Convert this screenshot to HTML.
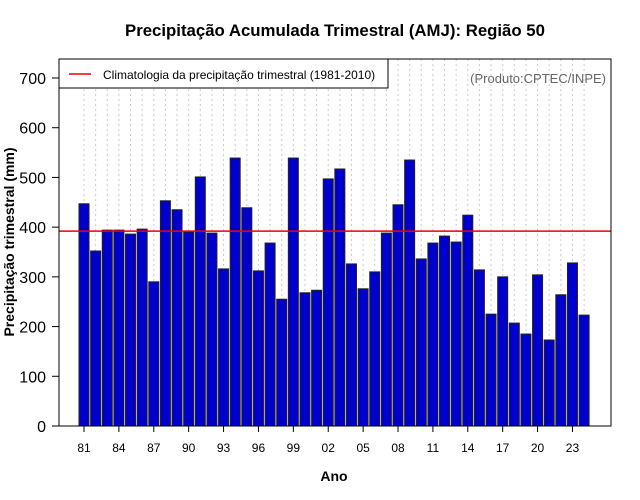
<!DOCTYPE html>
<html><head><meta charset="utf-8"><style>body{margin:0;background:#fff}svg{display:block;font-family:"Liberation Sans",sans-serif}</style></head>
<body>
<svg id="c" width="640" height="500"></svg>
<script>
const years=['81','82','83','84','85','86','87','88','89','90','91','92','93','94','95','96','97','98','99','00','01','02','03','04','05','06','07','08','09','10','11','12','13','14','15','16','17','18','19','20','21','22','23','24'];
const values=[447,352,394,394,386,396,290,453,435,390,501,388,316,539,439,312,368,255,539,268,273,497,517,326,276,310,388,445,535,336,368,382,370,424,314,225,300,207,185,304,173,264,328,223];
const climatology=392;
const yTicks=[0,100,200,300,400,500,600,700];
const xTickLabels=['81','84','87','90','93','96','99','02','05','08','11','14','17','20','23'];
const NS='http://www.w3.org/2000/svg';
const svg=document.getElementById('c');
function mk(t,a,p){const e=document.createElementNS(NS,t);for(const k in a)e.setAttribute(k,a[k]);(p||svg).appendChild(e);return e;}
const L=59,R=611,T=59,B=426;
const y=v=>426-v*(348/700);
const x=i=>84+i*11.63;
const grid=mk('g',{});


years.forEach((yr,i)=>{mk('line',{x1:x(i),x2:x(i),y1:T,y2:B,stroke:'#ccc','stroke-dasharray':'2,3','stroke-width':1},grid);});
values.forEach((v,i)=>{
 const r=mk('rect',{x:x(i)-5,y:y(v),width:10,height:B-y(v),fill:'#0000cd',stroke:'#222','stroke-width':1});
 
 
});
const cl=mk('line',{x1:L,x2:R,y1:y(climatology),y2:y(climatology),stroke:'#e00','stroke-width':1.5});


const fr=mk('rect',{x:L,y:T,width:R-L,height:B-T,fill:'none',stroke:'#000'});


yTicks.forEach(v=>{
 mk('line',{x1:L-7,x2:L,y1:y(v),y2:y(v),stroke:'#000'});
 const t=mk('text',{x:L-13,y:y(v)+6,'text-anchor':'end','font-size':16});
 t.textContent=v;
 
 
});
xTickLabels.forEach(lbl=>{
 const i=years.indexOf(lbl);
 mk('line',{x1:x(i),x2:x(i),y1:B,y2:B+6,stroke:'#000'});
 const t=mk('text',{x:x(i),y:B+26,'text-anchor':'middle','font-size':12});
 t.textContent=lbl;
 
 
});
</script>
<svg style="position:absolute;left:0;top:0" width="640" height="500">
<text x="335" y="36" text-anchor="middle" font-size="16.8" font-weight="bold">Precipitação Acumulada Trimestral (AMJ): Região 50</text>
<text x="334" y="481" text-anchor="middle" font-size="14" font-weight="bold">Ano</text>
<text transform="translate(14,242) rotate(-90)" text-anchor="middle" font-size="14" font-weight="bold">Precipitação trimestral (mm)</text>
<text x="606" y="83" text-anchor="end" font-size="13" fill="#666">(Produto:CPTEC/INPE)</text>
<g>
<rect x="59" y="59" width="329" height="29" fill="#fff" stroke="#000"/>
<line x1="69" x2="91" y1="74" y2="74" stroke="#e00" stroke-width="1.5"/>
<text x="103" y="79" font-size="12">Climatologia da precipitação trimestral (1981-2010)</text>
</g>
</svg>
</body></html>
